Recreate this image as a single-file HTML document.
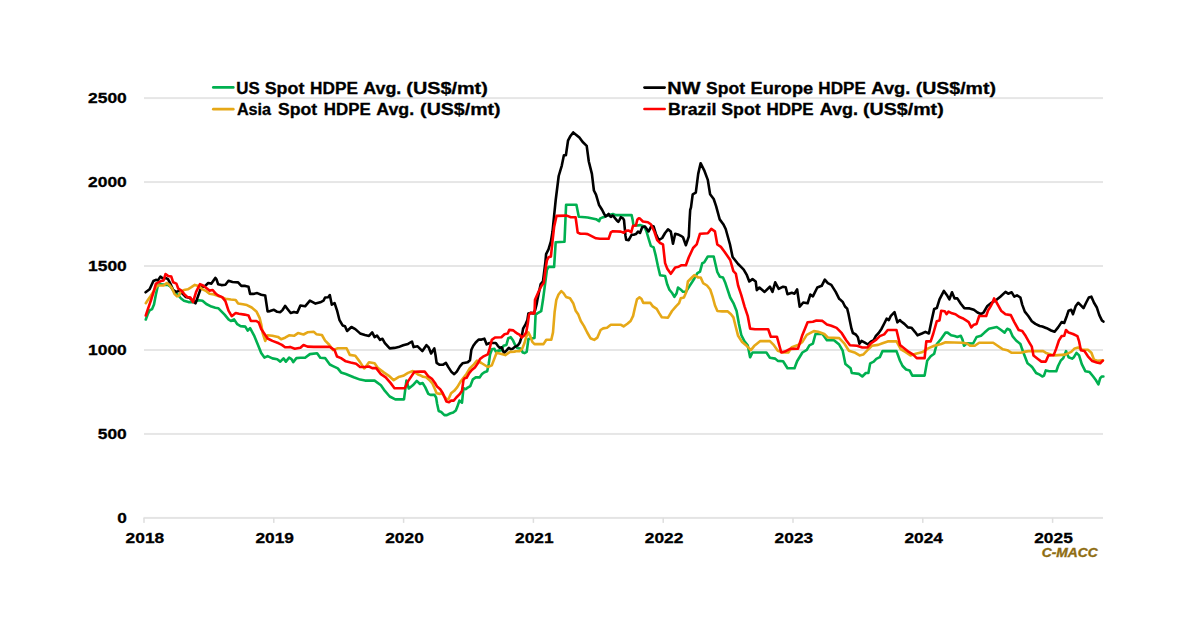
<!DOCTYPE html>
<html><head><meta charset="utf-8"><style>
html,body{margin:0;padding:0;background:#fff;}
svg{display:block;}
text{font-family:"Liberation Sans",sans-serif;font-weight:bold;stroke:#000;stroke-width:0.3px;}
</style></head><body>
<svg width="1200" height="627" viewBox="0 0 1200 627">
<rect width="1200" height="627" fill="#fff"/>

<rect x="144" y="432.94" width="959" height="2" fill="#E6E6E6"/>
<rect x="144" y="348.98" width="959" height="2" fill="#E6E6E6"/>
<rect x="144" y="265.02" width="959" height="2" fill="#E6E6E6"/>
<rect x="144" y="181.06" width="959" height="2" fill="#E6E6E6"/>
<rect x="144" y="97.10" width="959" height="2" fill="#E6E6E6"/>
<rect x="143.5" y="516.90" width="959.5" height="2" fill="#E4E4E4"/>
<rect x="143.25" y="517.90" width="1.5" height="5" fill="#DEDEDE"/>
<rect x="273.05" y="517.90" width="1.5" height="5" fill="#DEDEDE"/>
<rect x="402.85" y="517.90" width="1.5" height="5" fill="#DEDEDE"/>
<rect x="532.65" y="517.90" width="1.5" height="5" fill="#DEDEDE"/>
<rect x="662.45" y="517.90" width="1.5" height="5" fill="#DEDEDE"/>
<rect x="792.25" y="517.90" width="1.5" height="5" fill="#DEDEDE"/>
<rect x="922.05" y="517.90" width="1.5" height="5" fill="#DEDEDE"/>
<rect x="1051.85" y="517.90" width="1.5" height="5" fill="#DEDEDE"/>
<text x="126.8" y="522.80" font-size="15.4" text-anchor="end" textLength="9.6" lengthAdjust="spacingAndGlyphs">0</text>
<text x="126.8" y="438.84" font-size="15.4" text-anchor="end" textLength="29" lengthAdjust="spacingAndGlyphs">500</text>
<text x="126.8" y="354.88" font-size="15.4" text-anchor="end" textLength="38.8" lengthAdjust="spacingAndGlyphs">1000</text>
<text x="126.8" y="270.92" font-size="15.4" text-anchor="end" textLength="38.8" lengthAdjust="spacingAndGlyphs">1500</text>
<text x="126.8" y="186.96" font-size="15.4" text-anchor="end" textLength="38.8" lengthAdjust="spacingAndGlyphs">2000</text>
<text x="126.8" y="103.00" font-size="15.4" text-anchor="end" textLength="38.8" lengthAdjust="spacingAndGlyphs">2500</text>
<text x="144.90" y="543.4" font-size="15.4" text-anchor="middle" textLength="38.6" lengthAdjust="spacingAndGlyphs">2018</text>
<text x="274.70" y="543.4" font-size="15.4" text-anchor="middle" textLength="38.6" lengthAdjust="spacingAndGlyphs">2019</text>
<text x="404.50" y="543.4" font-size="15.4" text-anchor="middle" textLength="38.6" lengthAdjust="spacingAndGlyphs">2020</text>
<text x="534.30" y="543.4" font-size="15.4" text-anchor="middle" textLength="38.6" lengthAdjust="spacingAndGlyphs">2021</text>
<text x="664.10" y="543.4" font-size="15.4" text-anchor="middle" textLength="38.6" lengthAdjust="spacingAndGlyphs">2022</text>
<text x="793.90" y="543.4" font-size="15.4" text-anchor="middle" textLength="38.6" lengthAdjust="spacingAndGlyphs">2023</text>
<text x="923.70" y="543.4" font-size="15.4" text-anchor="middle" textLength="38.6" lengthAdjust="spacingAndGlyphs">2024</text>
<text x="1053.50" y="543.4" font-size="15.4" text-anchor="middle" textLength="38.6" lengthAdjust="spacingAndGlyphs">2025</text>
<path d="M145.8,319.5 L147.7,314.2 L149.6,310.4 L152.1,309.1 L154.0,304.6 L155.9,294.4 L157.9,285.5 L160.4,284.2 L165.5,284.9 L168.0,284.9 L170.6,286.8 L174.4,291.9 L178.3,295.1 L180.8,298.3 L184.0,300.8 L188.5,302.1 L193.6,302.1 L198.7,300.2 L202.5,300.8 L206.3,304.0 L211.4,306.6 L215.3,307.8 L218.2,308.2 L221.4,311.4 L224.6,314.6 L228.5,319.4 L230.9,321.0 L234.1,319.4 L237.3,324.2 L240.5,326.1 L245.3,326.6 L247.7,330.6 L250.1,328.2 L254.0,335.3 L258.0,344.9 L261.2,352.9 L264.4,357.6 L267.6,356.1 L272.4,358.4 L277.2,359.2 L280.3,361.6 L283.5,358.4 L285.9,361.6 L289.1,357.6 L291.5,359.2 L293.2,362.1 L296.4,358.1 L300.4,357.8 L305.1,357.8 L309.9,354.1 L317.1,353.3 L320.3,357.8 L325.1,358.1 L329.8,364.5 L333.0,366.1 L337.8,368.4 L341.0,372.4 L345.8,374.0 L353.7,377.2 L360.1,379.6 L365.0,380.6 L374.6,380.6 L380.9,385.3 L384.9,390.9 L389.7,396.5 L395.3,399.4 L404.0,399.4 L406.4,380.6 L408.8,388.5 L412.8,385.3 L416.8,380.9 L420.0,384.0 L422.6,383.0 L425.2,387.1 L428.3,393.9 L430.4,394.9 L434.5,394.9 L436.1,397.5 L437.1,403.7 L438.7,411.0 L441.2,412.0 L444.4,415.1 L446.9,415.1 L450.0,413.5 L453.2,412.5 L455.8,410.4 L457.3,406.8 L459.4,400.6 L462.0,402.7 L463.5,388.2 L465.6,389.2 L467.7,387.6 L470.3,386.1 L472.9,379.3 L475.7,377.4 L479.6,377.4 L482.0,374.1 L484.4,372.2 L487.2,371.2 L488.7,364.0 L490.1,354.4 L492.0,349.2 L494.4,348.7 L495.8,351.6 L498.7,350.6 L501.6,350.1 L503.5,345.8 L506.4,344.9 L508.3,338.2 L510.7,337.2 L513.1,340.6 L515.0,344.7 L517.2,348.0 L520.6,348.6 L522.8,352.5 L524.5,353.1 L526.7,351.9 L528.4,339.1 L531.7,338.5 L534.5,338.0 L535.6,314.6 L537.3,313.4 L541.2,311.2 L543.0,299.8 L546.9,270.0 L548.5,266.9 L554.1,266.9 L555.7,242.2 L564.5,241.7 L566.1,204.8 L576.4,204.8 L578.8,216.7 L585.0,217.2 L587.7,217.5 L596.0,219.2 L599.1,221.2 L600.0,218.7 L602.2,217.6 L604.3,216.9 L607.2,215.4 L612.9,214.0 L615.8,215.1 L631.6,215.1 L632.7,220.1 L633.4,225.1 L637.3,225.5 L640.0,225.1 L644.3,226.5 L646.5,231.5 L648.6,238.7 L650.8,245.9 L653.6,247.3 L655.8,255.9 L657.9,266.0 L660.1,275.3 L665.1,276.0 L667.3,284.6 L669.4,289.7 L672.3,293.3 L674.4,296.9 L676.6,293.3 L678.0,287.5 L680.9,289.7 L683.0,291.8 L685.9,291.8 L689.5,286.1 L692.3,281.8 L694.5,278.2 L697.4,273.2 L700.0,271.7 L702.3,263.2 L704.2,262.4 L707.8,256.5 L713.7,256.5 L717.3,272.0 L719.8,276.7 L723.0,277.5 L725.4,283.1 L730.2,297.5 L733.4,303.1 L736.6,311.0 L738.9,323.8 L741.3,335.0 L744.5,341.3 L747.7,345.3 L750.1,357.3 L752.5,352.5 L766.4,352.5 L769.9,357.7 L775.2,358.6 L777.8,360.9 L783.1,361.2 L787.5,368.2 L794.5,368.2 L797.1,361.2 L802.4,352.5 L806.8,349.8 L809.4,345.4 L812.9,343.7 L815.5,334.0 L822.5,334.0 L826.9,340.2 L834.0,340.2 L839.2,344.6 L842.7,350.7 L845.4,363.9 L850.6,368.2 L851.8,373.0 L858.8,373.9 L862.3,376.5 L865.8,373.0 L868.4,373.0 L870.2,363.3 L873.7,361.6 L876.3,358.9 L879.8,357.2 L882.5,351.1 L896.5,351.1 L900.0,360.7 L902.6,366.0 L906.1,369.5 L909.6,370.4 L912.3,375.6 L924.6,375.6 L927.2,360.7 L930.7,356.3 L934.2,353.7 L936.8,344.0 L941.2,338.8 L945.6,332.6 L947.6,332.6 L951.1,335.3 L954.6,336.1 L957.3,337.0 L960.8,335.8 L962.5,339.6 L964.0,345.8 L966.9,343.2 L973.1,343.5 L976.6,337.0 L981.0,335.8 L984.5,332.6 L988.9,328.8 L996.8,327.0 L1001.1,330.0 L1004.6,332.6 L1007.3,328.8 L1009.9,330.0 L1012.5,336.1 L1016.1,340.5 L1020.4,344.0 L1022.2,349.3 L1024.8,356.3 L1027.5,363.3 L1031.0,366.0 L1032.6,367.7 L1036.1,373.0 L1039.6,374.7 L1042.3,376.5 L1044.0,375.6 L1045.8,370.4 L1049.3,371.2 L1056.3,371.2 L1058.1,366.0 L1060.7,360.7 L1063.3,358.1 L1066.0,351.1 L1068.6,357.2 L1072.1,358.6 L1073.9,357.2 L1076.5,352.8 L1079.1,355.4 L1081.8,364.2 L1085.3,371.2 L1089.6,372.1 L1093.2,376.5 L1095.8,380.0 L1098.4,384.4 L1100.2,378.2 L1101.9,376.5 L1103.4,376.5" fill="none" stroke="#00B050" stroke-width="2.6" stroke-linejoin="round" stroke-linecap="round"/>
<path d="M145.6,292.3 L149.6,289.3 L153.4,281.0 L155.9,279.8 L157.9,280.4 L160.4,276.6 L163.0,278.5 L165.5,277.9 L168.0,279.1 L170.6,284.2 L173.2,290.0 L176.4,291.9 L179.5,290.6 L182.7,293.8 L185.9,297.0 L189.1,297.6 L192.3,300.2 L195.5,303.4 L198.7,294.4 L201.2,287.4 L205.0,286.1 L208.2,283.0 L211.4,283.6 L215.3,277.9 L216.6,279.6 L218.2,284.3 L221.4,285.1 L225.4,284.7 L228.5,280.8 L232.5,282.0 L238.1,282.4 L241.3,285.9 L245.3,285.9 L248.5,286.7 L250.1,293.9 L253.2,293.9 L257.2,293.1 L261.2,294.7 L265.2,295.5 L267.6,311.4 L270.0,311.1 L274.0,309.8 L277.2,311.8 L280.3,312.2 L282.7,309.8 L285.1,305.9 L287.5,309.0 L290.7,313.0 L294.0,311.9 L297.2,312.7 L300.4,305.5 L305.1,306.3 L309.9,300.7 L315.5,303.6 L320.3,302.3 L323.5,300.7 L325.1,297.5 L328.2,297.2 L329.8,295.1 L331.8,304.7 L334.6,303.1 L337.0,310.3 L339.4,319.8 L342.6,325.4 L345.0,326.2 L347.1,331.0 L351.4,327.0 L355.3,329.1 L360.1,333.4 L364.9,335.0 L369.0,335.9 L372.2,332.4 L374.6,337.2 L377.0,335.6 L380.1,339.9 L382.5,338.8 L384.9,343.1 L389.7,348.4 L394.5,347.9 L398.5,347.1 L403.2,345.2 L408.0,343.9 L412.0,341.5 L413.6,347.1 L417.6,346.3 L422.4,351.1 L426.4,345.2 L428.7,347.4 L431.1,353.5 L434.3,348.4 L435.5,355.0 L436.6,362.8 L439.7,364.8 L442.8,364.8 L445.9,362.8 L448.5,367.4 L451.6,372.1 L454.2,374.2 L456.8,371.6 L459.9,366.4 L462.5,363.3 L467.7,362.3 L470.0,360.2 L471.4,349.7 L473.3,345.8 L475.7,342.5 L478.6,339.6 L481.5,339.6 L484.4,338.7 L486.7,344.4 L489.6,343.0 L493.0,343.0 L495.8,343.0 L497.8,345.8 L499.7,347.8 L501.6,347.3 L504.0,353.0 L506.4,350.6 L508.8,347.8 L510.7,349.2 L512.6,348.7 L515.0,346.8 L517.8,345.4 L519.8,342.5 L521.7,336.7 L523.1,328.6 L525.5,324.3 L527.4,320.0 L528.4,313.4 L530.6,312.9 L533.4,313.4 L535.1,310.1 L536.8,303.4 L537.4,299.8 L540.6,284.4 L543.0,281.2 L545.4,262.1 L546.1,254.1 L548.5,249.4 L550.9,241.4 L552.5,231.8 L554.1,215.9 L555.7,200.0 L558.7,176.0 L561.8,165.6 L563.9,155.3 L565.9,155.3 L568.0,140.7 L570.1,136.6 L573.2,132.4 L576.3,134.9 L579.4,137.6 L582.5,141.8 L586.7,145.9 L588.8,161.5 L591.9,173.9 L593.9,190.5 L596.0,194.7 L599.1,205.1 L600.0,206.5 L602.2,210.0 L604.0,213.6 L605.7,216.5 L607.2,215.4 L608.6,214.0 L610.0,216.2 L611.1,216.9 L612.6,215.4 L613.6,216.2 L615.4,218.7 L617.2,220.8 L618.3,221.9 L619.4,220.1 L620.8,217.2 L623.0,218.3 L624.0,220.1 L624.8,228.7 L625.5,235.9 L626.2,239.8 L628.7,240.2 L630.2,237.3 L631.6,234.8 L633.7,234.8 L635.9,234.1 L638.0,231.6 L640.0,233.0 L642.2,227.2 L645.0,226.5 L648.6,231.5 L651.5,225.8 L653.6,226.5 L655.8,233.7 L658.7,240.1 L662.2,238.0 L665.1,233.0 L668.0,229.4 L670.8,231.5 L673.0,243.7 L675.2,233.7 L678.0,234.4 L680.9,235.8 L683.0,237.3 L685.9,245.2 L688.8,236.5 L689.5,221.5 L690.2,210.0 L691.0,207.4 L692.7,194.3 L695.8,192.6 L698.2,173.9 L700.6,163.2 L704.2,170.3 L707.8,179.9 L710.1,194.3 L713.7,199.0 L716.1,206.2 L719.7,219.4 L723.3,224.2 L725.7,229.0 L730.0,244.5 L732.6,257.0 L738.1,264.0 L741.3,267.2 L743.7,269.6 L746.9,275.2 L749.3,281.5 L752.5,279.1 L755.7,281.5 L756.8,290.2 L759.4,287.5 L764.6,291.9 L769.9,286.7 L772.5,291.9 L775.2,282.3 L778.7,288.9 L783.1,286.7 L785.7,287.2 L787.5,294.2 L791.8,292.8 L794.5,293.7 L797.1,289.3 L799.7,306.8 L803.2,302.5 L807.6,303.3 L810.3,294.6 L812.9,296.3 L817.3,287.5 L821.7,285.8 L824.8,279.6 L827.8,283.2 L831.3,284.9 L835.7,291.9 L839.2,298.9 L840.0,299.3 L842.9,302.2 L845.0,306.5 L847.2,308.7 L848.6,314.4 L850.0,321.6 L851.5,328.7 L852.9,333.0 L855.8,334.5 L857.9,337.3 L859.4,343.8 L861.5,340.9 L864.4,342.4 L868.0,344.5 L870.8,341.6 L873.7,340.2 L875.9,335.9 L878.7,333.0 L881.6,328.7 L884.5,323.0 L886.6,318.7 L888.8,320.1 L890.9,315.8 L894.5,312.2 L897.4,322.3 L900.0,320.1 L900.9,321.2 L904.4,323.9 L907.9,327.4 L911.4,327.7 L914.9,331.8 L917.5,335.3 L921.9,333.5 L925.4,331.8 L928.9,333.5 L931.6,320.4 L934.2,308.9 L936.8,308.1 L939.5,299.3 L943.9,290.9 L946.8,294.9 L949.4,299.3 L952.0,292.3 L954.6,298.4 L957.3,298.4 L960.8,303.7 L964.3,308.1 L969.6,308.4 L973.9,309.8 L977.5,312.5 L981.0,314.2 L983.6,312.5 L987.1,306.3 L991.5,302.8 L995.9,300.2 L1000.3,296.7 L1005.5,291.9 L1008.2,293.7 L1011.7,292.3 L1014.3,296.7 L1017.0,295.4 L1020.4,297.5 L1022.2,304.6 L1024.8,311.6 L1028.3,316.0 L1031.8,321.2 L1035.4,323.9 L1039.7,326.0 L1042.3,326.5 L1046.7,328.2 L1051.1,330.5 L1054.6,331.8 L1058.1,327.4 L1061.6,322.1 L1064.2,323.0 L1066.8,316.0 L1068.6,310.7 L1071.2,309.8 L1073.0,314.2 L1075.6,306.3 L1078.2,302.8 L1080.9,305.4 L1083.5,308.1 L1086.1,302.8 L1088.8,297.5 L1091.4,296.7 L1094.0,302.8 L1096.7,307.2 L1099.3,315.1 L1101.9,320.4 L1103.4,321.6" fill="none" stroke="#000000" stroke-width="2.6" stroke-linejoin="round" stroke-linecap="round"/>
<path d="M145.8,303.2 L147.7,300.2 L150.8,295.7 L154.0,290.6 L157.2,285.5 L160.4,285.5 L163.6,285.5 L166.8,283.0 L169.3,284.9 L171.9,288.1 L174.4,293.8 L177.0,296.4 L178.9,295.7 L180.8,291.9 L184.0,290.0 L187.8,289.3 L191.0,287.4 L194.8,284.9 L198.7,286.1 L202.5,289.3 L206.3,291.2 L209.5,293.8 L214.0,294.4 L219.7,296.4 L221.4,297.1 L225.4,298.7 L230.9,299.5 L235.7,300.0 L238.1,303.5 L242.9,304.3 L246.9,305.1 L251.7,307.5 L256.4,311.4 L259.6,317.8 L261.2,324.2 L262.8,333.7 L265.2,340.9 L267.6,335.3 L272.4,335.7 L278.0,336.9 L281.1,339.3 L285.1,337.7 L289.1,335.3 L294.0,335.8 L298.0,333.1 L303.5,334.5 L307.5,332.3 L313.9,331.8 L316.3,334.2 L321.9,335.0 L325.1,340.6 L329.0,344.5 L333.0,350.1 L337.8,348.2 L346.6,348.2 L349.8,354.9 L355.3,355.7 L360.1,362.1 L364.1,368.4 L365.0,367.8 L369.0,362.2 L374.6,363.3 L377.7,367.8 L384.1,372.6 L388.9,375.8 L393.7,380.2 L398.5,377.1 L403.2,375.8 L408.0,372.9 L412.8,371.0 L417.6,374.2 L420.0,375.2 L423.1,376.8 L426.2,377.3 L429.3,379.9 L432.4,383.5 L435.0,389.2 L436.6,393.3 L439.7,393.9 L441.8,393.3 L444.4,396.5 L446.9,399.6 L448.5,399.0 L451.1,393.3 L454.2,390.8 L457.3,387.1 L460.4,381.9 L463.5,377.8 L466.6,373.7 L469.7,368.5 L473.9,364.3 L477.0,360.7 L481.4,363.0 L487.8,367.0 L491.8,365.4 L496.6,352.7 L500.6,353.8 L505.3,355.1 L510.1,351.9 L514.9,351.6 L515.0,351.2 L519.5,351.2 L522.3,348.6 L524.5,343.0 L526.2,336.9 L528.4,332.4 L530.1,335.8 L532.3,341.9 L534.5,344.1 L543.5,344.1 L546.3,339.7 L551.3,339.7 L553.0,332.4 L554.6,312.3 L556.3,300.0 L558.5,294.5 L561.3,291.1 L563.5,293.1 L566.0,296.9 L570.0,298.3 L573.2,303.2 L575.7,310.8 L578.3,314.6 L580.8,321.0 L584.0,326.1 L587.2,332.5 L590.4,338.2 L594.2,339.9 L597.4,337.6 L600.6,330.0 L603.2,328.4 L607.0,327.7 L610.8,324.8 L621.0,324.8 L623.6,326.4 L627.4,323.8 L630.6,321.0 L633.1,315.9 L635.1,307.0 L637.0,299.3 L639.5,297.4 L641.4,298.7 L643.3,302.9 L650.4,302.9 L652.9,306.4 L656.7,308.9 L659.3,313.4 L661.8,317.2 L668.0,317.7 L672.0,311.0 L676.0,306.3 L679.1,303.1 L680.7,298.3 L683.9,297.5 L686.3,291.9 L687.9,281.5 L691.9,277.5 L694.3,275.2 L698.3,277.5 L700.7,277.5 L703.1,283.1 L707.0,285.5 L710.2,289.5 L712.6,296.7 L715.0,305.5 L717.4,311.0 L722.2,311.4 L727.8,311.4 L731.0,314.2 L733.4,317.4 L735.8,327.0 L738.1,335.8 L742.1,342.1 L746.9,346.1 L750.9,350.1 L754.1,346.1 L760.3,341.1 L769.9,341.1 L773.4,344.6 L777.8,350.7 L783.1,352.5 L788.3,352.5 L791.8,347.2 L798.0,345.1 L802.4,341.9 L806.8,334.9 L813.8,331.1 L818.2,331.8 L824.3,334.0 L827.8,337.5 L839.2,338.1 L844.5,343.7 L848.9,350.7 L855.3,352.8 L859.6,355.4 L863.2,354.6 L867.5,350.2 L871.9,345.8 L878.1,344.9 L882.5,343.2 L887.7,341.4 L896.5,341.4 L900.9,349.3 L905.3,351.9 L910.5,355.4 L915.8,353.7 L922.8,351.9 L928.1,348.4 L934.2,345.8 L941.2,344.0 L945.6,342.3 L962.5,342.8 L966.9,343.5 L970.4,345.8 L974.8,345.8 L979.2,342.8 L993.2,342.8 L997.6,345.8 L1002.9,349.3 L1007.3,350.2 L1011.7,352.8 L1020.4,352.8 L1023.9,351.9 L1028.3,351.1 L1033.5,351.1 L1043.2,351.1 L1046.7,353.3 L1051.1,354.6 L1054.6,355.4 L1065.1,354.6 L1071.2,351.9 L1074.7,348.4 L1078.2,347.5 L1082.6,349.8 L1087.9,349.8 L1091.4,352.8 L1094.0,359.8 L1097.5,360.7 L1103.0,360.4" fill="none" stroke="#E6A817" stroke-width="2.6" stroke-linejoin="round" stroke-linecap="round"/>
<path d="M145.8,315.5 L147.7,309.7 L150.8,300.8 L153.4,292.5 L155.9,283.6 L158.5,282.3 L161.0,281.0 L163.6,280.4 L165.5,274.0 L168.0,275.9 L171.3,276.6 L173.2,282.3 L176.4,283.6 L178.3,288.7 L181.5,290.6 L184.0,293.8 L187.2,297.0 L190.4,297.6 L193.0,302.1 L196.1,291.9 L200.0,284.2 L203.1,285.5 L206.3,288.1 L209.5,290.6 L212.7,290.0 L215.9,293.8 L218.2,295.5 L222.2,297.1 L225.4,301.1 L228.5,310.6 L231.7,316.2 L235.7,313.0 L238.9,313.8 L244.5,314.6 L248.5,315.4 L250.9,321.0 L256.4,321.0 L258.8,322.6 L261.2,329.0 L264.4,333.7 L267.6,338.5 L272.4,340.9 L278.7,343.3 L281.9,344.9 L285.1,347.3 L288.3,347.3 L290.0,346.9 L294.8,348.8 L300.4,347.7 L303.5,345.0 L307.5,346.6 L313.9,346.9 L329.8,346.9 L334.6,350.1 L337.0,356.5 L341.0,358.1 L345.8,361.3 L350.6,362.5 L356.1,363.7 L360.1,366.9 L365.0,367.0 L369.0,366.5 L372.2,368.1 L376.2,368.1 L380.9,374.2 L385.7,377.4 L390.5,382.9 L394.5,388.2 L404.8,388.2 L408.0,381.4 L411.2,376.6 L414.4,371.8 L420.0,371.6 L424.7,371.6 L428.3,376.2 L431.9,378.8 L435.0,383.0 L437.1,386.6 L440.2,389.2 L442.8,393.3 L444.9,398.0 L446.4,401.6 L449.0,402.2 L451.1,400.6 L453.7,400.6 L456.3,397.5 L459.4,394.4 L462.0,390.8 L463.5,379.9 L464.6,378.3 L466.6,377.8 L469.2,373.1 L471.8,370.0 L474.9,367.4 L477.5,363.8 L480.0,359.1 L483.0,356.7 L487.8,354.3 L489.4,349.5 L491.8,339.9 L495.0,337.5 L501.4,337.2 L504.5,334.3 L507.7,333.5 L509.3,329.9 L513.3,330.4 L515.0,331.9 L517.2,333.5 L519.5,334.6 L521.7,337.4 L523.9,335.8 L526.2,332.4 L527.8,323.5 L529.0,314.6 L530.6,312.9 L534.5,313.4 L535.0,299.8 L538.2,292.4 L541.4,286.0 L543.8,282.8 L545.4,270.0 L546.9,260.5 L548.5,257.3 L550.9,256.5 L552.5,241.4 L554.1,227.1 L556.5,215.9 L566.8,215.6 L570.8,217.2 L575.6,217.2 L577.7,232.6 L580.4,233.8 L585.0,233.8 L587.7,234.1 L596.0,238.3 L600.0,238.8 L608.6,238.8 L610.8,232.3 L612.9,231.2 L620.8,231.6 L623.7,232.7 L625.8,230.9 L628.7,230.5 L631.2,232.3 L633.0,225.8 L635.9,225.5 L637.3,219.7 L638.8,218.3 L640.0,218.6 L642.9,221.5 L647.9,222.2 L650.8,224.3 L654.3,231.5 L657.2,240.1 L660.1,243.0 L663.0,244.4 L665.1,263.1 L667.3,268.8 L670.8,273.8 L675.2,267.4 L678.7,266.7 L681.6,265.2 L685.9,265.2 L688.8,257.3 L693.1,248.0 L696.7,244.4 L700.0,233.7 L700.6,233.7 L707.8,233.3 L711.3,228.9 L714.9,231.3 L717.3,244.5 L720.9,246.9 L724.5,251.7 L730.2,260.0 L733.4,271.2 L735.8,273.6 L738.1,285.5 L741.3,295.1 L744.5,306.3 L747.7,315.8 L750.1,328.6 L755.0,329.3 L768.2,329.3 L770.8,336.7 L776.9,336.7 L781.3,352.5 L784.8,351.6 L790.1,348.9 L798.0,348.6 L802.4,334.9 L807.6,322.3 L812.9,321.8 L816.4,320.5 L822.5,320.9 L826.9,324.4 L831.3,325.8 L836.6,327.9 L841.8,333.2 L846.2,340.2 L850.0,345.3 L857.0,345.8 L862.3,347.5 L867.5,347.5 L871.1,343.2 L876.3,339.6 L879.8,336.1 L884.2,334.4 L887.7,330.0 L896.5,330.0 L900.0,344.9 L904.4,348.4 L908.8,351.9 L913.2,354.6 L916.7,358.1 L924.6,358.1 L926.3,341.4 L930.7,341.4 L933.3,333.5 L936.8,321.2 L939.5,320.4 L941.2,310.7 L944.7,311.2 L946.5,314.2 L948.5,311.6 L952.0,313.3 L955.5,314.2 L959.0,316.8 L962.5,318.2 L966.1,320.4 L968.7,322.1 L971.3,327.4 L973.9,324.7 L976.6,323.9 L979.2,316.0 L986.2,316.0 L988.0,310.7 L990.6,306.3 L992.4,302.8 L994.1,298.4 L996.8,302.8 L1001.1,310.7 L1005.5,314.2 L1010.8,315.1 L1014.3,322.1 L1018.7,330.0 L1022.2,330.9 L1025.7,336.1 L1029.2,342.3 L1031.8,346.7 L1033.5,355.4 L1037.9,358.9 L1041.4,361.6 L1045.8,361.6 L1048.4,355.4 L1053.7,355.1 L1056.3,348.4 L1058.9,340.5 L1061.6,336.1 L1064.2,335.8 L1066.0,330.0 L1068.6,332.6 L1073.0,334.0 L1077.4,336.1 L1079.1,341.4 L1080.9,350.2 L1084.4,351.1 L1087.9,356.3 L1092.3,361.1 L1096.7,362.5 L1100.2,363.3 L1102.8,360.6" fill="none" stroke="#FF0000" stroke-width="2.6" stroke-linejoin="round" stroke-linecap="round"/>
<line x1="213.29999999999998" y1="87.4" x2="233.3" y2="87.4" stroke="#00B050" stroke-width="2.7" stroke-linecap="round"/>
<line x1="213.29999999999998" y1="109.2" x2="233.3" y2="109.2" stroke="#E6A817" stroke-width="2.7" stroke-linecap="round"/>
<line x1="644.5" y1="87.6" x2="664.5999999999999" y2="87.6" stroke="#000000" stroke-width="2.7" stroke-linecap="round"/>
<line x1="644.5" y1="109.0" x2="664.5999999999999" y2="109.0" stroke="#FF0000" stroke-width="2.7" stroke-linecap="round"/>
<text x="236.29" y="93.7" font-size="16" textLength="23.48" lengthAdjust="spacingAndGlyphs">US</text>
<text x="264.69" y="93.7" font-size="16" textLength="39.63" lengthAdjust="spacingAndGlyphs">Spot</text>
<text x="310.05" y="93.7" font-size="16" textLength="47.82" lengthAdjust="spacingAndGlyphs">HDPE</text>
<text x="363.26" y="93.7" font-size="16" textLength="38.05" lengthAdjust="spacingAndGlyphs">Avg.</text>
<text x="406.31" y="93.7" font-size="16" textLength="81.47" lengthAdjust="spacingAndGlyphs">(US$/mt)</text>
<text x="236.90" y="114.8" font-size="16" textLength="34.20" lengthAdjust="spacingAndGlyphs">Asia</text>
<text x="278.09" y="114.8" font-size="16" textLength="39.12" lengthAdjust="spacingAndGlyphs">Spot</text>
<text x="323.87" y="114.8" font-size="16" textLength="46.89" lengthAdjust="spacingAndGlyphs">HDPE</text>
<text x="376.26" y="114.8" font-size="16" textLength="37.94" lengthAdjust="spacingAndGlyphs">Avg.</text>
<text x="420.13" y="114.8" font-size="16" textLength="80.45" lengthAdjust="spacingAndGlyphs">(US$/mt)</text>
<text x="667.27" y="93.6" font-size="16" textLength="33.15" lengthAdjust="spacingAndGlyphs">NW</text>
<text x="706.10" y="93.6" font-size="16" textLength="38.92" lengthAdjust="spacingAndGlyphs">Spot</text>
<text x="750.59" y="93.6" font-size="16" textLength="62.53" lengthAdjust="spacingAndGlyphs">Europe</text>
<text x="818.36" y="93.6" font-size="16" textLength="47.41" lengthAdjust="spacingAndGlyphs">HDPE</text>
<text x="871.35" y="93.6" font-size="16" textLength="38.99" lengthAdjust="spacingAndGlyphs">Avg.</text>
<text x="915.73" y="93.6" font-size="16" textLength="80.24" lengthAdjust="spacingAndGlyphs">(US$/mt)</text>
<text x="667.91" y="114.7" font-size="16" textLength="48.45" lengthAdjust="spacingAndGlyphs">Brazil</text>
<text x="721.29" y="114.7" font-size="16" textLength="39.33" lengthAdjust="spacingAndGlyphs">Spot</text>
<text x="766.47" y="114.7" font-size="16" textLength="47.10" lengthAdjust="spacingAndGlyphs">HDPE</text>
<text x="819.66" y="114.7" font-size="16" textLength="38.36" lengthAdjust="spacingAndGlyphs">Avg.</text>
<text x="863.02" y="114.7" font-size="16" textLength="80.65" lengthAdjust="spacingAndGlyphs">(US$/mt)</text>
<text x="1041.7" y="556.7" font-size="12.6" font-style="italic" fill="#8E6C12" style="stroke:#8E6C12;stroke-width:0.35px" textLength="56" lengthAdjust="spacingAndGlyphs">C-MACC</text>
</svg></body></html>
